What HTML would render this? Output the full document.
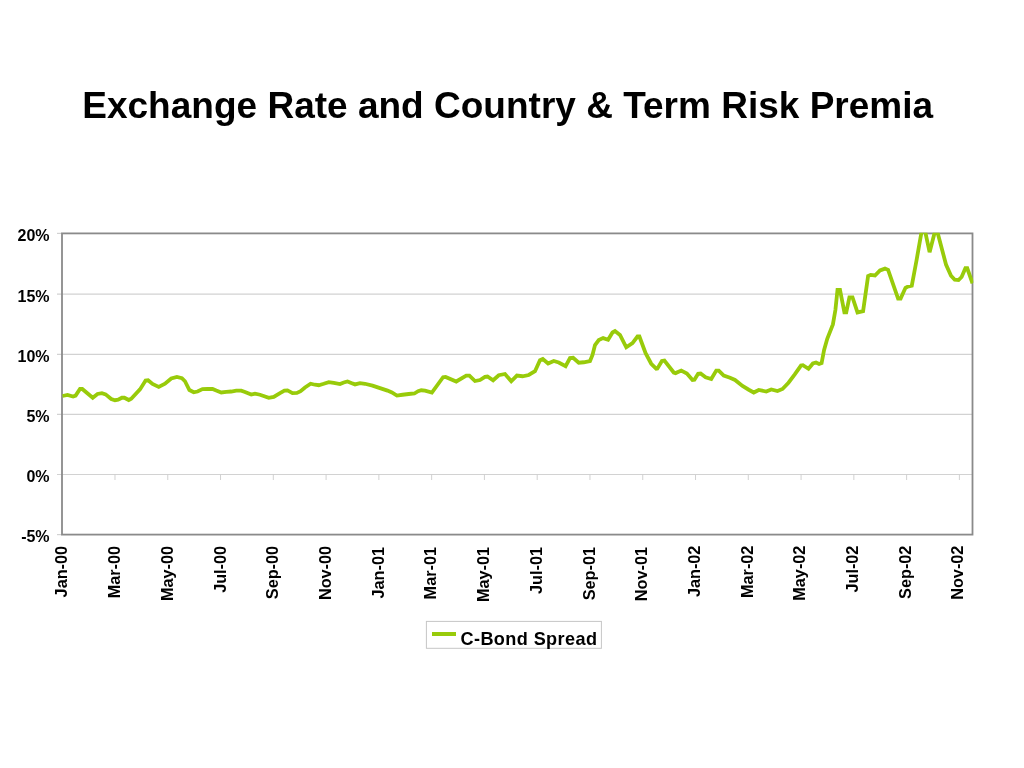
<!DOCTYPE html>
<html><head><meta charset="utf-8"><title>Exchange Rate and Country &amp; Term Risk Premia</title>
<style>html,body{margin:0;padding:0;background:#fff;}body{width:1024px;height:768px;overflow:hidden;}svg{display:block;will-change:transform;}text{font-family:"Liberation Sans",sans-serif;font-weight:bold;fill:#000;}</style></head><body>
<svg width="1024" height="768" viewBox="0 0 1024 768">
<rect x="0" y="0" width="1024" height="768" fill="#ffffff"/>
<text transform="translate(507.7,117.75) scale(0.994,1.015)" font-size="37.25" text-anchor="middle" id="title">Exchange Rate and Country &amp; Term Risk Premia</text>
<line x1="57.0" y1="294.1" x2="972.5" y2="294.1" stroke="#d2d2d2" stroke-width="1.2"/>
<line x1="57.0" y1="354.4" x2="972.5" y2="354.4" stroke="#d2d2d2" stroke-width="1.2"/>
<line x1="57.0" y1="414.4" x2="972.5" y2="414.4" stroke="#d2d2d2" stroke-width="1.2"/>
<line x1="57.0" y1="474.5" x2="972.5" y2="474.5" stroke="#d2d2d2" stroke-width="1.2"/>
<line x1="57.0" y1="233.4" x2="62.0" y2="233.4" stroke="#d2d2d2" stroke-width="1.2"/>
<line x1="57.0" y1="534.6" x2="62.0" y2="534.6" stroke="#d2d2d2" stroke-width="1.2"/>
<line x1="114.98" y1="474.5" x2="114.98" y2="480" stroke="#cccccc" stroke-width="0.9"/>
<line x1="167.75" y1="474.5" x2="167.75" y2="480" stroke="#cccccc" stroke-width="0.9"/>
<line x1="220.53" y1="474.5" x2="220.53" y2="480" stroke="#cccccc" stroke-width="0.9"/>
<line x1="273.31" y1="474.5" x2="273.31" y2="480" stroke="#cccccc" stroke-width="0.9"/>
<line x1="326.08" y1="474.5" x2="326.08" y2="480" stroke="#cccccc" stroke-width="0.9"/>
<line x1="378.86" y1="474.5" x2="378.86" y2="480" stroke="#cccccc" stroke-width="0.9"/>
<line x1="431.64" y1="474.5" x2="431.64" y2="480" stroke="#cccccc" stroke-width="0.9"/>
<line x1="484.41" y1="474.5" x2="484.41" y2="480" stroke="#cccccc" stroke-width="0.9"/>
<line x1="537.19" y1="474.5" x2="537.19" y2="480" stroke="#cccccc" stroke-width="0.9"/>
<line x1="589.96" y1="474.5" x2="589.96" y2="480" stroke="#cccccc" stroke-width="0.9"/>
<line x1="642.74" y1="474.5" x2="642.74" y2="480" stroke="#cccccc" stroke-width="0.9"/>
<line x1="695.52" y1="474.5" x2="695.52" y2="480" stroke="#cccccc" stroke-width="0.9"/>
<line x1="748.29" y1="474.5" x2="748.29" y2="480" stroke="#cccccc" stroke-width="0.9"/>
<line x1="801.07" y1="474.5" x2="801.07" y2="480" stroke="#cccccc" stroke-width="0.9"/>
<line x1="853.85" y1="474.5" x2="853.85" y2="480" stroke="#cccccc" stroke-width="0.9"/>
<line x1="906.62" y1="474.5" x2="906.62" y2="480" stroke="#cccccc" stroke-width="0.9"/>
<line x1="959.40" y1="474.5" x2="959.40" y2="480" stroke="#cccccc" stroke-width="0.9"/>
<rect x="62.0" y="233.4" width="910.5" height="301.20000000000005" fill="none" stroke="#8a8a8a" stroke-width="1.8"/>
<clipPath id="c"><rect x="62.0" y="232.8" width="911.3" height="301.20000000000005"/></clipPath>
<path d="M62.50,396.00 L67.50,395.00 L73.10,396.50 L75.60,395.60 L80.00,389.00 L82.25,389.00 L92.75,397.75 L97.50,394.00 L101.90,393.25 L105.60,394.40 L111.25,399.00 L115.00,400.25 L118.10,399.75 L121.90,397.75 L124.40,397.75 L128.75,400.00 L131.25,398.75 L140.00,389.40 L145.60,380.60 L148.10,380.25 L152.50,384.00 L158.75,386.90 L165.00,383.75 L171.25,378.50 L176.90,376.90 L181.90,378.10 L185.00,381.25 L189.40,390.00 L193.75,392.25 L197.50,391.50 L202.50,389.10 L207.50,389.00 L212.50,389.00 L216.25,390.60 L221.25,392.50 L226.25,391.90 L231.25,391.50 L236.25,390.60 L241.25,390.60 L245.00,391.90 L251.25,394.60 L255.00,393.75 L260.00,394.75 L268.75,397.90 L273.75,396.90 L280.00,393.10 L284.40,390.60 L287.50,390.40 L292.50,393.10 L296.90,392.90 L300.60,391.25 L305.00,387.50 L310.60,383.75 L315.00,384.75 L318.75,385.25 L323.75,383.75 L328.75,382.10 L333.75,382.90 L340.00,384.00 L343.75,382.50 L347.50,381.50 L351.25,383.10 L355.00,384.40 L360.00,383.10 L365.00,383.75 L372.50,385.60 L380.00,388.10 L387.50,390.60 L391.90,392.50 L396.90,395.60 L402.50,394.75 L408.75,394.00 L414.40,393.50 L418.10,391.25 L421.25,390.25 L425.00,390.60 L431.90,392.50 L443.10,377.25 L445.60,376.90 L456.25,381.50 L466.25,375.60 L469.40,375.60 L475.00,381.00 L480.00,380.00 L485.00,376.90 L487.50,376.50 L493.10,380.25 L498.75,375.25 L505.00,374.00 L511.25,381.25 L516.90,375.60 L522.50,376.25 L528.75,375.00 L535.00,371.25 L540.00,360.30 L542.80,359.00 L548.10,363.50 L553.75,361.00 L558.75,362.50 L565.60,366.25 L570.00,358.10 L573.10,357.75 L578.75,362.75 L583.75,362.25 L590.00,361.00 L592.50,355.00 L595.00,345.00 L598.75,340.00 L603.10,338.10 L608.10,339.75 L612.50,332.50 L615.00,331.00 L620.00,335.00 L626.25,347.25 L632.50,343.10 L637.50,336.50 L639.40,336.50 L645.60,353.10 L651.25,363.75 L656.90,369.40 L661.90,361.00 L664.40,360.60 L673.75,372.50 L675.60,373.10 L681.25,370.60 L686.90,373.50 L692.50,380.00 L694.40,379.75 L698.10,373.75 L700.60,373.50 L705.60,377.25 L711.25,379.00 L716.25,370.60 L718.75,370.60 L723.75,375.60 L730.00,377.75 L735.00,380.00 L742.50,386.00 L748.75,389.75 L753.75,392.50 L758.75,390.00 L766.25,391.50 L771.25,389.40 L777.50,391.00 L782.50,389.00 L788.50,382.70 L794.75,374.40 L801.00,365.60 L802.90,365.25 L808.50,368.75 L812.90,363.50 L816.00,362.50 L819.10,364.00 L821.60,363.10 L824.10,350.00 L827.25,338.75 L832.90,324.40 L835.40,310.00 L837.50,289.90 L840.00,289.90 L844.40,312.40 L846.25,312.40 L849.40,297.40 L852.50,297.40 L857.50,312.40 L863.10,311.10 L868.10,276.10 L870.60,274.90 L875.00,275.50 L880.00,270.50 L885.00,268.60 L888.10,269.90 L898.10,298.60 L900.60,298.60 L905.50,287.80 L907.50,286.75 L911.80,285.70 L916.50,260.50 L923.20,222.40 L929.60,252.20 L936.10,227.00 L946.00,264.50 L951.00,275.75 L954.75,279.75 L958.50,280.10 L961.60,277.00 L965.40,268.25 L967.25,268.25 L972.50,283.25" fill="none" stroke="#98cb0a" stroke-width="3.8" stroke-linejoin="miter" stroke-miterlimit="1.6" stroke-linecap="butt" clip-path="url(#c)"/>
<text x="49.6" y="240.9" font-size="16" text-anchor="end">20%</text>
<text x="49.6" y="301.6" font-size="16" text-anchor="end">15%</text>
<text x="49.6" y="361.9" font-size="16" text-anchor="end">10%</text>
<text x="49.6" y="421.9" font-size="16" text-anchor="end">5%</text>
<text x="49.6" y="482.0" font-size="16" text-anchor="end">0%</text>
<text x="49.6" y="542.1" font-size="16" text-anchor="end">-5%</text>
<text transform="translate(67.40,545.9) rotate(-90)" font-size="16.25" text-anchor="end">Jan-00</text>
<text transform="translate(120.11,545.9) rotate(-90)" font-size="16.25" text-anchor="end">Mar-00</text>
<text transform="translate(172.82,545.9) rotate(-90)" font-size="16.25" text-anchor="end">May-00</text>
<text transform="translate(225.53,545.9) rotate(-90)" font-size="16.25" text-anchor="end">Jul-00</text>
<text transform="translate(278.24,545.9) rotate(-90)" font-size="16.25" text-anchor="end">Sep-00</text>
<text transform="translate(330.95,545.9) rotate(-90)" font-size="16.25" text-anchor="end">Nov-00</text>
<text transform="translate(383.66,547.0) rotate(-90)" font-size="16.25" text-anchor="end">Jan-01</text>
<text transform="translate(436.37,547.0) rotate(-90)" font-size="16.25" text-anchor="end">Mar-01</text>
<text transform="translate(489.08,547.0) rotate(-90)" font-size="16.25" text-anchor="end">May-01</text>
<text transform="translate(541.79,547.0) rotate(-90)" font-size="16.25" text-anchor="end">Jul-01</text>
<text transform="translate(594.50,547.0) rotate(-90)" font-size="16.25" text-anchor="end">Sep-01</text>
<text transform="translate(647.21,547.0) rotate(-90)" font-size="16.25" text-anchor="end">Nov-01</text>
<text transform="translate(699.92,545.6) rotate(-90)" font-size="16.25" text-anchor="end">Jan-02</text>
<text transform="translate(752.63,545.6) rotate(-90)" font-size="16.25" text-anchor="end">Mar-02</text>
<text transform="translate(805.34,545.6) rotate(-90)" font-size="16.25" text-anchor="end">May-02</text>
<text transform="translate(858.05,545.6) rotate(-90)" font-size="16.25" text-anchor="end">Jul-02</text>
<text transform="translate(910.76,545.6) rotate(-90)" font-size="16.25" text-anchor="end">Sep-02</text>
<text transform="translate(963.47,545.6) rotate(-90)" font-size="16.25" text-anchor="end">Nov-02</text>
<rect x="426.4" y="621.4" width="175" height="26.9" fill="#fff" stroke="#c6c6c6" stroke-width="1"/>
<line x1="432" y1="634" x2="456" y2="634" stroke="#98cb0a" stroke-width="4"/>
<text x="460.5" y="645.3" font-size="18.1" letter-spacing="0.40" id="leg">C-Bond Spread</text>
</svg></body></html>
